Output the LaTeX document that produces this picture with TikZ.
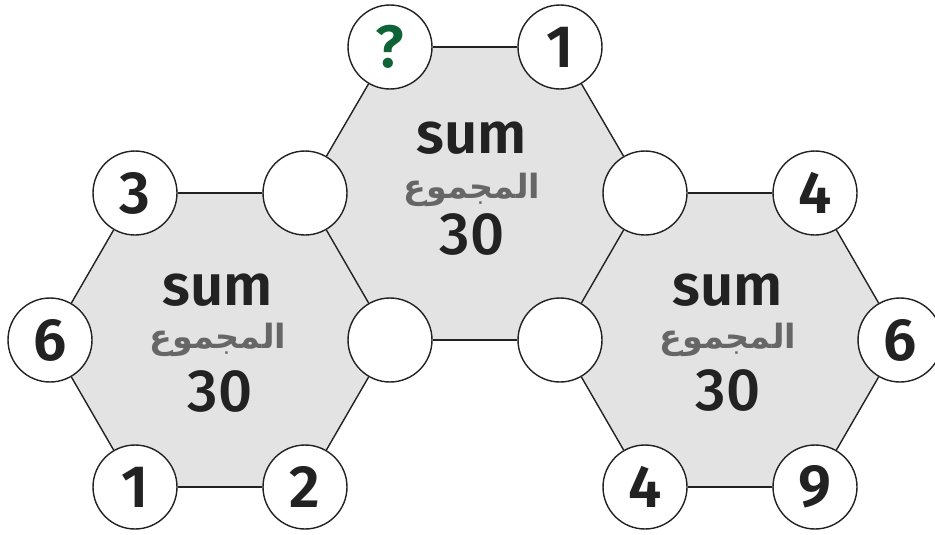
\documentclass[tikz,border=0pt]{standalone}
\usepackage{fontspec}
\setmainfont{Fira Sans}[BoldFont={Fira Sans SemiBold}]
\newfontfamily\mediumfont{Fira Sans Medium}
\newfontfamily\arabicfont[Script=Arabic]{DejaVu Sans}
\TeXXeTstate=1
\usepackage{xcolor}
\usetikzlibrary{positioning,backgrounds}
\definecolor{hexFill}{HTML}{E3E3E3}
\definecolor{hexLine}{HTML}{222222}
\definecolor{qGreen}{HTML}{0E6436}
\definecolor{arGray}{HTML}{666666}

\begin{document}
\begin{tikzpicture}[
  x=0.02cm, y=-0.02cm,
  hexface/.style={fill=hexFill, draw=none},
  side/.style={draw=hexLine, line width=0.8pt},
  slot/.style={circle, draw=hexLine, fill=white, line width=0.8pt,
    minimum size=1.68cm, inner sep=0pt, text=hexLine,
    font=\fontsize{34}{34}\selectfont\bfseries},
  sumlbl/.style={font=\fontsize{33}{33}\selectfont\bfseries, text=hexLine},
  arlbl/.style={font=\arabicfont\fontsize{19}{19}\selectfont\bfseries, text=arGray},
  totlbl/.style={font=\mediumfont\fontsize{34}{34}\selectfont, text=hexLine},
]
\useasboundingbox (0,0) rectangle (935,534);

% === vertices ===
\node[slot] (tq) at (390,47) {\textcolor{qGreen}{?}};
\node[slot] (t1) at (560,47) {1};
\node[slot] (ml) at (305,193) {};
\node[slot] (mr) at (645,193) {};
\node[slot] (bl) at (390,340) {};
\node[slot] (br) at (560,340) {};
\node[slot] (l3) at (135,193) {3};
\node[slot] (l6) at (50,340) {6};
\node[slot] (l1) at (135,487) {1};
\node[slot] (l2) at (305,487) {2};
\node[slot] (r4) at (815,193) {4};
\node[slot] (r6) at (900,340) {6};
\node[slot] (r9) at (815,487) {9};
\node[slot] (r4b) at (645,487) {4};

% === faces ===
\begin{scope}[on background layer]
  \path[hexface] (tq.center) -- (t1.center) -- (mr.center) -- (br.center)
    -- (bl.center) -- (ml.center) -- cycle;
  \path[hexface] (l3.center) -- (ml.center) -- (bl.center) -- (l2.center)
    -- (l1.center) -- (l6.center) -- cycle;
  \path[hexface] (mr.center) -- (r4.center) -- (r6.center) -- (r9.center)
    -- (r4b.center) -- (br.center) -- cycle;
\end{scope}

% === sides ===
\foreach \a/\b in {tq/t1, t1/mr, mr/br, br/bl, bl/ml, ml/tq,
                   l3/ml, bl/l2, l2/l1, l1/l6, l6/l3,
                   mr/r4, r4/r6, r6/r9, r9/r4b, r4b/br} {
  \draw[side] (\a) -- (\b);
}

% === labels ===
\node[sumlbl] (msum) at (472,138) {sum};
\node[arlbl] (mar) at (472,190) {\beginR المجموع\endR};
\node[totlbl] (mtot) at (472,234) {30};

\node[sumlbl] (lsum) at (218,290) {sum};
\node[arlbl] (lar) at (218,340) {\beginR المجموع\endR};
\node[totlbl] (ltot) at (220,391) {30};

\node[sumlbl] (rsum) at (728,290) {sum};
\node[arlbl] (rar) at (728,340) {\beginR المجموع\endR};
\node[totlbl] (rtot) at (728,390) {30};

\end{tikzpicture}
\end{document}
